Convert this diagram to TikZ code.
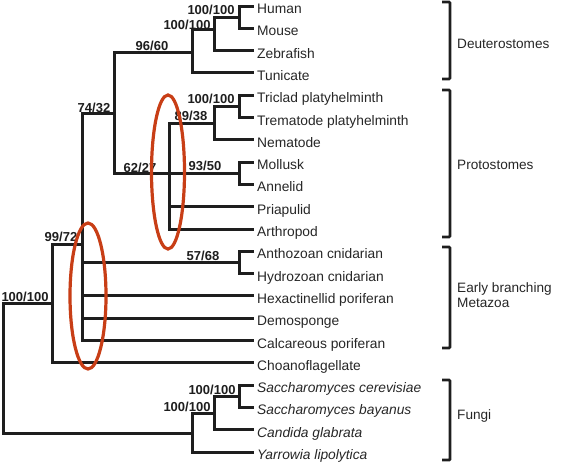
\documentclass[tikz,border=0pt]{standalone}
\usepackage{fontspec}
\setmainfont{Liberation Sans}
\definecolor{tree}{HTML}{1E1E1E}
\definecolor{ovalred}{RGB}{200,62,22}
\tikzset{
  edge/.style={draw=tree, line width=3pt, line join=miter},
  leaf/.style={anchor=west, inner xsep=3pt, inner ysep=0pt, text height=15pt, text depth=0pt,
    font=\fontsize{13.8}{16}\selectfont, text=black!85},
  ileaf/.style={leaf, font=\fontsize{13.8}{16}\selectfont\itshape},
  lab/.style={anchor=base, inner sep=0pt, font=\bfseries\fontsize{13}{15}\selectfont, text=tree},
  grp/.style={anchor=base west, inner sep=0pt, font=\fontsize{13.6}{15}\selectfont, text=black!85, align=left},
  brk/.style={draw=tree, line width=2.8pt, rounded corners=1pt},
  oval/.style={draw=ovalred, line width=3.2pt}
}
\begin{document}
\begin{tikzpicture}[x=1pt,y=-1pt]
\useasboundingbox (0,0) rectangle (561,464);
% leaves
\node[leaf] (human) at (254,6) {Human};
\node[leaf] (mouse) at (254,28.3) {Mouse};
\node[leaf] (zebra) at (254,50.6) {Zebrafish};
\node[leaf] (tunic) at (254,72.9) {Tunicate};
\node[leaf] (tricl) at (254,95.2) {Triclad platyhelminth};
\node[leaf] (trema) at (254,117.5) {Trematode platyhelminth};
\node[leaf] (nemat) at (254,139.8) {Nematode};
\node[leaf] (mollu) at (254,162.1) {Mollusk};
\node[leaf] (annel) at (254,184.4) {Annelid};
\node[leaf] (priap) at (254,206.7) {Priapulid};
\node[leaf] (arthr) at (254,229) {Arthropod};
\node[leaf] (antho) at (254,251.3) {Anthozoan cnidarian};
\node[leaf] (hydro) at (254,273.6) {Hydrozoan cnidarian};
\node[leaf] (hexac) at (254,295.9) {Hexactinellid poriferan};
\node[leaf] (demos) at (254,318.2) {Demosponge};
\node[leaf] (calca) at (254,340.5) {Calcareous poriferan};
\node[leaf] (choan) at (254,362.8) {Choanoflagellate};
\node[ileaf] (scere) at (254,385.1) {Saccharomyces cerevisiae};
\node[ileaf] (sbaya) at (254,407.4) {Saccharomyces bayanus};
\node[ileaf] (cglab) at (254,429.7) {Candida glabrata};
\node[ileaf] (ylipo) at (254,452) {Yarrowia lipolytica};
% internal nodes
\coordinate (hm) at (239,17.2);
\coordinate (hmz) at (214,29);
\coordinate (deut) at (192,52);
\coordinate (tt) at (239,106.3);
\coordinate (ttn) at (214,123);
\coordinate (ma) at (239,173.2);
\coordinate (proto) at (169,173.2);
\coordinate (bilat) at (114,113);
\coordinate (ah) at (239,262.5);
\coordinate (meta) at (82,244);
\coordinate (holo) at (52,303);
\coordinate (ss) at (239,396.2);
\coordinate (sc) at (214,413);
\coordinate (fung) at (192,433);
\coordinate (root) at (3,368);
% edges
\draw[edge] (hm) |- (human.west);
\draw[edge] (hm) |- (mouse.west);
\draw[edge] (hmz) |- (hm);
\draw[edge] (hmz) |- (zebra.west);
\draw[edge] (deut) |- (hmz);
\draw[edge] (deut) |- (tunic.west);
\draw[edge] (bilat) |- (deut);
\draw[edge] (bilat) |- (proto);
\draw[edge] (tt) |- (tricl.west);
\draw[edge] (tt) |- (trema.west);
\draw[edge] (ttn) |- (tt);
\draw[edge] (ttn) |- (nemat.west);
\draw[edge] (ma) |- (mollu.west);
\draw[edge] (ma) |- (annel.west);
\draw[edge] (proto) |- (ttn);
\draw[edge] (proto) |- (ma);
\draw[edge] (proto) |- (priap.west);
\draw[edge] (proto) |- (arthr.west);
\draw[edge] (ah) |- (antho.west);
\draw[edge] (ah) |- (hydro.west);
\draw[edge] (meta) |- (bilat);
\draw[edge] (meta) |- (ah);
\draw[edge] (meta) |- (hexac.west);
\draw[edge] (meta) |- (demos.west);
\draw[edge] (meta) |- (calca.west);
\draw[edge] (holo) |- (meta);
\draw[edge] (holo) |- (choan.west);
\draw[edge] (ss) |- (scere.west);
\draw[edge] (ss) |- (sbaya.west);
\draw[edge] (sc) |- (ss);
\draw[edge] (sc) |- (cglab.west);
\draw[edge] (fung) |- (sc);
\draw[edge] (fung) |- (ylipo.west);
\draw[edge] (root) |- (holo);
\draw[edge] (root) |- (fung);
% support labels
\node[lab] (l1) at (211,14) {100/100};
\node[lab] (l2) at (187,29) {100/100};
\node[lab] (l3) at (152,50) {96/60};
\node[lab] (l4) at (94,112) {74/32};
\node[lab] (l5) at (211,103) {100/100};
\node[lab] (l6) at (191,120) {89/38};
\node[lab] (l7) at (140,172) {62/27};
\node[lab] (l8) at (205,170) {93/50};
\node[lab] (l9) at (61,241) {99/72};
\node[lab] (l10) at (203,260) {57/68};
\node[lab] (l11) at (25,301) {100/100};
\node[lab] (l12) at (212,394) {100/100};
\node[lab] (l13) at (187,411) {100/100};
% brackets
\draw[brk] (442,2) -- (450,2) -- (450,79) -- (442,79);
\draw[brk] (442,90) -- (450,90) -- (450,237) -- (442,237);
\draw[brk] (442,247) -- (450,247) -- (450,348) -- (442,348);
\draw[brk] (442,380) -- (450,380) -- (450,460) -- (442,460);
\node[grp] (g1) at (457,48) {Deuterostomes};
\node[grp] (g2) at (457,169) {Protostomes};
\node[grp, anchor=north west] (g3) at (457,282) {Early branching\\Metazoa};
\node[grp] (g4) at (457,419) {Fungi};
% highlight ovals
\draw[oval] (168,172) ellipse [x radius=16.5pt, y radius=77pt];
\draw[oval] (88,296) ellipse [x radius=18pt, y radius=73pt];
\end{tikzpicture}
\end{document}
